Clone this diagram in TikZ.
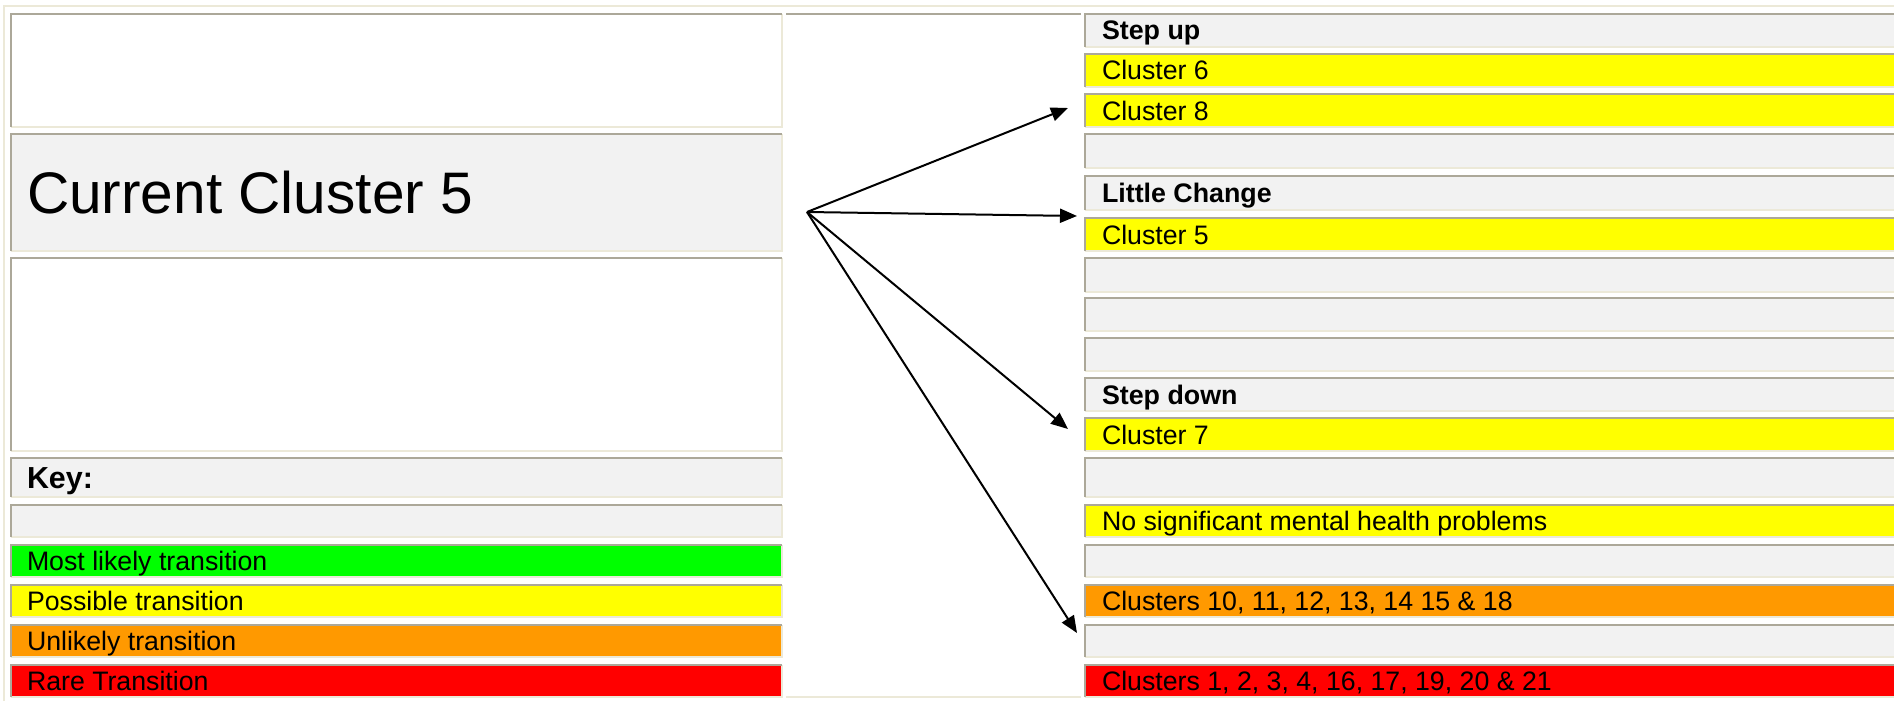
\documentclass[tikz,border=0pt]{standalone}
\usepackage{fontspec}
\setmainfont{Liberation Sans}
\usetikzlibrary{arrows.meta,fit}
\definecolor{cellgray}{HTML}{F2F2F2}
\definecolor{darkb}{HTML}{ACA899}
\definecolor{lightb}{HTML}{ECE9D8}
\definecolor{kgreen}{HTML}{00FF00}
\definecolor{kyellow}{HTML}{FFFF00}
\definecolor{korange}{HTML}{FF9900}
\definecolor{kred}{HTML}{FF0000}
\tikzset{
  darkline/.style={draw=darkb, line width=0.85pt},
  lightline/.style={draw=lightb, line width=0.85pt},
  framebox/.style={draw=lightb, line width=1pt},
  lbl/.style={anchor=base west, inner sep=0pt, outer sep=0pt, font=\fontsize{13.35}{15}\selectfont},
  hdr/.style={anchor=base west, inner sep=0pt, outer sep=0pt, font=\fontsize{13.4}{15}\selectfont\bfseries},
  keylbl/.style={anchor=base west, inner sep=0pt, outer sep=0pt, font=\fontsize{15.2}{18}\selectfont\bfseries},
  biglbl/.style={anchor=base west, inner sep=0pt, outer sep=0pt, font=\fontsize{29.3}{34}\selectfont},
  arr/.style={-{Triangle[length=8.5pt,width=7pt]}, line width=1pt, black},
}
% cell: name, x1, y1, x2, y2, fill
\newcommand\tcell[6]{%
  \node[fit={(#2,#3) (#4,#5)}, inner sep=0pt, outer sep=0pt, fill=#6] (#1) {};
  \draw[lightline] (#1.north east) -- (#1.south east) -- (#1.south west);
  \draw[darkline] (#1.south west) -- (#1.north west) -- (#1.north east);
}
\begin{document}
\begin{tikzpicture}[x=0.5pt,y=-0.5pt]
\useasboundingbox (0,0) rectangle (1894,701);
\fill[white] (0,0) rectangle (1894,701);
% outer table frame
\draw[framebox] (4,701) -- (4,6) -- (1894,6);

% left column
\tcell{LA}{11}{14}{782}{127}{white}
\tcell{LB}{11}{134}{782}{251}{cellgray}
\tcell{LC}{11}{258}{782}{451}{white}
\tcell{LKey}{11}{458}{782}{497}{cellgray}
\tcell{LBlank}{11}{505}{782}{537}{cellgray}
\tcell{LGreen}{11}{545}{782}{577}{kgreen}
\tcell{LYellow}{11}{585}{782}{617}{kyellow}
\tcell{LOrange}{11}{625}{782}{657}{korange}
\tcell{LRed}{11}{665}{782}{697}{kred}

% middle column
\node[fit={(786,14) (1081,697)}, inner sep=0pt, outer sep=0pt, fill=white] (Mid) {};
\draw[darkline] (Mid.north west) -- (Mid.north east);
\draw[lightline] (Mid.south west) -- (Mid.south east);

% right column
\tcell{R1}{1085}{14}{1898}{47}{cellgray}
\tcell{R2}{1085}{54}{1898}{87}{kyellow}
\tcell{R3}{1085}{94}{1898}{127}{kyellow}
\tcell{R4}{1085}{134}{1898}{168}{cellgray}
\tcell{R5}{1085}{176}{1898}{210}{cellgray}
\tcell{R6}{1085}{218}{1898}{251}{kyellow}
\tcell{R7}{1085}{258}{1898}{292}{cellgray}
\tcell{R8}{1085}{298}{1898}{331}{cellgray}
\tcell{R9}{1085}{338}{1898}{371}{cellgray}
\tcell{R10}{1085}{378}{1898}{411}{cellgray}
\tcell{R11}{1085}{418}{1898}{451}{kyellow}
\tcell{R12}{1085}{458}{1898}{497}{cellgray}
\tcell{R13}{1085}{505}{1898}{537}{kyellow}
\tcell{R14}{1085}{545}{1898}{577}{cellgray}
\tcell{R15}{1085}{585}{1898}{617}{korange}
\tcell{R16}{1085}{625}{1898}{657}{cellgray}
\tcell{R17}{1085}{665}{1898}{697}{kred}

% left texts
\node[biglbl] (tCur) at (27,213.5) {Current Cluster 5};
\node[keylbl] (tKey) at (27,488.5) {Key:};
\node[lbl] (tMost) at (27,570.5) {Most likely transition};
\node[lbl] (tPoss) at (27,610.5) {Possible transition};
\node[lbl] (tUnl) at (27,650.5) {Unlikely transition};
\node[lbl] (tRare) at (27,690.5) {Rare Transition};

% right texts
\node[hdr] (tUp) at (1102,40) {Step up};
\node[lbl] (tC6) at (1102,80) {Cluster 6};
\node[lbl] (tC8) at (1102,120) {Cluster 8};
\node[hdr] (tLittle) at (1102,202.5) {Little Change};
\node[lbl] (tC5) at (1102,244) {Cluster 5};
\node[hdr] (tDown) at (1102,404) {Step down};
\node[lbl] (tC7) at (1102,444) {Cluster 7};
\node[lbl] (tNo) at (1102,530.5) {No significant mental health problems};
\node[lbl] (tOr) at (1102,610.5) {Clusters 10, 11, 12, 13, 14 15 \& 18};
\node[lbl] (tRd) at (1102,690.5) {Clusters 1, 2, 3, 4, 16, 17, 19, 20 \& 21};

% arrows
\coordinate (src) at (807,212);
\coordinate (e1) at (1068,108);
\coordinate (e2) at (1077,216);
\coordinate (e3) at (1068,429);
\coordinate (e4) at (1077,633);
\draw[arr] (src) -- (e1);
\draw[arr] (src) -- (e2);
\draw[arr] (src) -- (e3);
\draw[arr] (src) -- (e4);
\end{tikzpicture}
\end{document}
